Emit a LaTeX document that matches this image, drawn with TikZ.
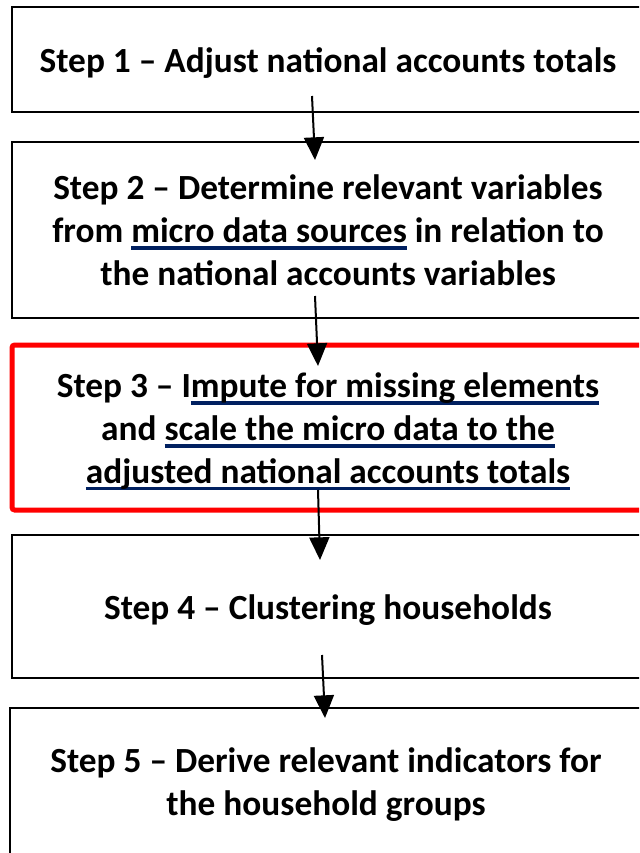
\documentclass[tikz,border=0pt]{standalone}
\usepackage{fontspec}
\setmainfont{Carlito}
\usetikzlibrary{arrows.meta}
\definecolor{ulblue}{RGB}{0,32,96}
\definecolor{boxred}{RGB}{255,0,0}
\newlength\ulw
\newcommand\navyul[1]{\settowidth{\ulw}{#1}\rlap{\textcolor{ulblue}{\rule[-5.5pt]{\ulw}{2.4pt}}}#1}
\newcommand\topstrut{\rule{0pt}{24.5pt}}
\begin{document}
\begin{tikzpicture}[x=0.75pt,y=-0.75pt,
  stepbox/.style={draw=black, line width=1.8pt, minimum width=474pt, align=center,
    font=\fontsize{26.5}{32.2}\selectfont\bfseries, inner sep=0pt},
  redbox/.style={stepbox, draw=boxred, line width=3.75pt, rounded corners=2pt},
  flow/.style={line width=1.5pt, -{Triangle[length=17pt,width=15pt]}}
]
\useasboundingbox (0,0) rectangle (639,853);
\clip (0,0) rectangle (639,853);
\fill[white] (0,0) rectangle (639,853);

\node[stepbox, minimum height=78.75pt] (b1) at (328,59.5) {\topstrut Step 1 – Adjust national accounts totals};
\node[stepbox, minimum height=132pt] (b2) at (328,230) {Step 2 – Determine relevant variables\\from \navyul{micro data sources} in relation to\\the national accounts variables};
\node[redbox, minimum height=123.75pt] (b3) at (328,427.5) {\topstrut Step 3 – I\navyul{mpute for missing elements}\\and \navyul{scale the micro data to the}\\\navyul{adjusted national accounts totals}};
\node[stepbox, minimum height=107.25pt] (b4) at (328,606.5) {\topstrut Step 4 – Clustering households};
\node[stepbox, minimum height=115.5pt] (b5) at (326,785) {Step 5 – Derive relevant indicators for\\the household groups};

\coordinate (a1s) at (312,96);  \coordinate (a1e) at (315,160);
\coordinate (a2s) at (315,296); \coordinate (a2e) at (318,366);
\coordinate (a3s) at (318,490); \coordinate (a3e) at (320,560);
\coordinate (a4s) at (322,655); \coordinate (a4e) at (325,718);

\draw[flow] (a1s) -- (a1e);
\draw[flow] (a2s) -- (a2e);
\draw[flow] (a3s) -- (a3e);
\draw[flow] (a4s) -- (a4e);
\end{tikzpicture}
\end{document}
